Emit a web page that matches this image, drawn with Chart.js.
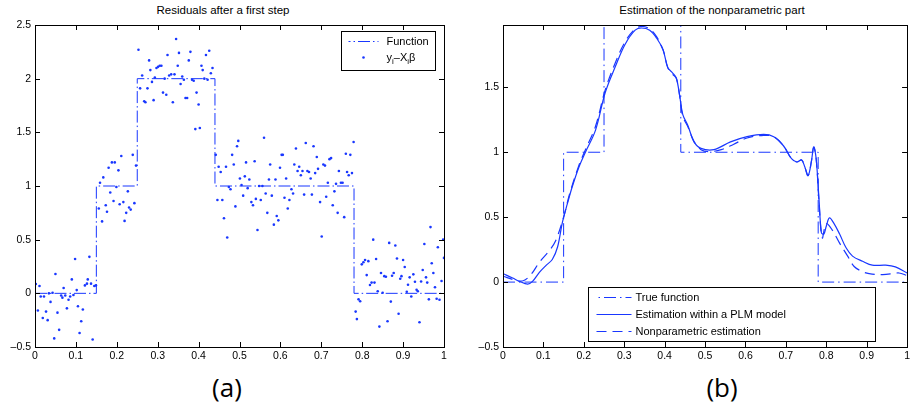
<!DOCTYPE html>
<html>
<head>
<meta charset="utf-8">
<script src="https://cdn.jsdelivr.net/npm/chart.js@4.4.1/dist/chart.umd.min.js"></script>
<style>
  body { margin: 0; background: #fff; width: 913px; height: 412px; overflow: hidden; position: relative; }
  canvas { position: absolute; top: 0; }
  #cA { left: 0; }
  #cB { left: 460px; }
  .title { position: absolute; top: 4px; font: 11.5px "Liberation Sans", Arial, sans-serif; color: #000; transform: translateX(-50%); white-space: nowrap; }
  .cap { position: absolute; top: 369px; font: 26px "Open Sans", sans-serif; color: #000; transform: translateX(-50%); }
</style>
</head>
<body>
<div class="title" style="left:223px">Residuals after a first step</div>
<div class="title" style="left:712px">Estimation of the nonparametric part</div>
<canvas id="cA" width="460" height="365"></canvas>
<canvas id="cB" width="453" height="365"></canvas>
<div class="cap" style="left:227px">(a)</div>
<div class="cap" style="left:722px">(b)</div>
<script>
// Tick values
const xTickVals = [0, 0.1, 0.2, 0.3, 0.4, 0.5, 0.6, 0.7, 0.8, 0.9, 1];
const yTickValsA = [-0.5, 0, 0.5, 1, 1.5, 2, 2.5];
const yTickValsB = [-0.5, 0, 0.5, 1, 1.5];

// True step function
const stepX = [0, 0.15, 0.15, 0.25, 0.25, 0.44, 0.44, 0.78, 0.78, 1];
const stepY = [0, 0, 1, 1, 2, 2, 1, 1, 0, 0];

// Residuals y_i - X_i beta
const resX = [
  0.002, 0.007, 0.011, 0.014, 0.019, 0.022, 0.027, 0.031, 0.034, 0.038, 0.043, 0.047, 0.050, 0.055, 0.059, 0.064,
  0.067, 0.070, 0.074, 0.078, 0.082, 0.086, 0.090, 0.094, 0.098, 0.102, 0.105, 0.109, 0.113, 0.117, 0.122, 0.127,
  0.129, 0.133, 0.137, 0.141, 0.145, 0.149,
  0.156, 0.159, 0.164, 0.167, 0.173, 0.176, 0.180, 0.184, 0.188, 0.192, 0.195, 0.199, 0.204, 0.207, 0.211, 0.216,
  0.219, 0.223, 0.227, 0.230, 0.234, 0.239, 0.243, 0.247,
  0.253, 0.257, 0.262, 0.267, 0.270, 0.275, 0.279, 0.282, 0.286, 0.290, 0.293, 0.297, 0.301, 0.305, 0.309, 0.313,
  0.317, 0.321, 0.324, 0.328, 0.333, 0.337, 0.341, 0.345, 0.349, 0.352, 0.356, 0.360, 0.364, 0.368, 0.372, 0.376,
  0.380, 0.384, 0.388, 0.392, 0.395, 0.400, 0.403, 0.407, 0.410, 0.414, 0.418, 0.422, 0.426, 0.430, 0.434,
  0.442, 0.446, 0.449, 0.454, 0.458, 0.462, 0.467, 0.470, 0.474, 0.478, 0.482, 0.486, 0.490, 0.494, 0.497, 0.501,
  0.505, 0.509, 0.513, 0.516, 0.520, 0.524, 0.529, 0.533, 0.537, 0.540, 0.544, 0.548, 0.552, 0.556, 0.560, 0.564,
  0.568, 0.572, 0.575, 0.579, 0.584, 0.588, 0.591, 0.595, 0.599, 0.603, 0.606, 0.610, 0.614, 0.618, 0.622, 0.627,
  0.631, 0.634, 0.638, 0.642, 0.646, 0.650, 0.654, 0.658, 0.662, 0.666, 0.670, 0.674, 0.677, 0.681, 0.685, 0.689,
  0.692, 0.697, 0.701, 0.705, 0.709, 0.712, 0.716, 0.720, 0.724, 0.728, 0.732, 0.736, 0.740, 0.743, 0.748, 0.752,
  0.756, 0.760, 0.763, 0.767, 0.771, 0.775, 0.779,
  0.784, 0.787, 0.791, 0.795, 0.799, 0.803, 0.807, 0.811, 0.815, 0.819, 0.823, 0.827, 0.830, 0.834, 0.838, 0.842,
  0.846, 0.850, 0.854, 0.858, 0.862, 0.866, 0.870, 0.873, 0.877, 0.881, 0.885, 0.889, 0.893, 0.896, 0.900, 0.904,
  0.909, 0.912, 0.916, 0.920, 0.925, 0.929, 0.933, 0.936, 0.940, 0.944, 0.948, 0.952, 0.956, 0.959, 0.963, 0.967,
  0.970, 0.974, 0.978, 0.982, 0.985, 0.989, 0.994, 0.998, 1.000
];
const resY = [
  0.087, -0.16, 0.068, -0.03, -0.23, -0.03, -0.17, -0.25, 0.00, -0.08, 0.006, -0.42, 0.18, -0.18, -0.34, -0.02,
  -0.04, 0.05, -0.02, -0.14, -0.06, -0.03, 0.13, -0.015, 0.32, 0.03, -0.12, -0.37, -0.26, -0.15, 0.074, 0.09,
  0.13, 0.34, 0.09, -0.43, 0.068, 0.074,
  0.79, 1.03, 0.67, 1.08, 0.82, 0.76, 1.17, 0.94, 1.22, 0.86, 1.22, 0.99, 1.146, 0.83, 1.28, 0.85,
  0.675, 0.75, 0.95, 0.80, 0.78, 1.29, 0.84, 1.19,
  2.27, 1.91, 2.03, 1.79, 1.78, 1.91, 2.17, 2.08, 1.97, 1.80, 2.01, 2.10, 2.11, 2.12, 2.12, 1.87,
  2.00, 1.85, 2.22, 2.03, 2.04, 1.78, 2.04, 2.37, 2.12, 2.24, 1.95, 2.02, 1.99, 1.82, 1.82, 2.17,
  2.25, 1.99, 1.98, 1.53, 1.87, 1.76, 1.54, 2.12, 2.08, 2.00, 2.22, 1.99, 2.26, 2.05, 2.10,
  1.29, 0.87, 1.18, 1.13, 0.87, 0.70, 1.18, 0.52, 0.99, 0.97, 1.29, 1.20, 0.81, 1.37, 1.42, 1.07,
  1.01, 0.91, 1.09, 1.22, 0.98, 1.06, 0.85, 0.82, 1.23, 0.88, 0.59, 1.00, 0.87, 1.00, 1.45, 0.93,
  0.75, 1.06, 1.20, 0.91, 0.64, 1.06, 0.72, 0.68, 1.17, 1.29, 1.29, 0.89, 1.07, 0.79, 0.87, 0.97,
  0.93, 1.20, 1.35, 1.14, 1.18, 1.10, 1.14, 0.92, 1.40, 1.14, 1.13, 1.07, 0.92, 1.37, 1.12, 1.27,
  1.16, 0.85, 0.53, 1.20, 1.19, 0.90, 1.03, 1.25, 1.26, 0.82, 0.95, 1.02, 0.75, 1.14, 1.03, 1.03,
  0.71, 1.30, 1.13, 1.10, 1.29, 1.12, 1.41,
  -0.17, -0.24, -0.056, -0.074, 0.27, 0.29, 0.31, 0.17, 0.30, 0.077, 0.10, 0.50, 0.10, 0.32, 0.02, -0.31,
  0.19, 0.006, 0.16, 0.155, -0.26, 0.47, -0.077, 0.164, 0.19, 0.446, 0.325, -0.19, 0.136, 0.16, 0.31, 0.245,
  0.015, 0.08, 0.149, -0.03, 0.177, 0.108, 0.034, 0.02, -0.27, 0.11, 0.217, 0.46, 0.149, 0.10, -0.056, 0.617,
  0.28, 0.19, 0.056, -0.05, 0.43, -0.06, 0.115, 0.50, 0.33
];

// Estimation within a PLM model
const plmX = [0, 0.024, 0.041, 0.061, 0.073, 0.09, 0.106, 0.122, 0.135, 0.147, 0.159, 0.171, 0.188, 0.204, 0.229,
  0.253, 0.278, 0.302, 0.327, 0.343, 0.363, 0.38, 0.396, 0.408, 0.42, 0.429, 0.437, 0.445, 0.457, 0.473, 0.49,
  0.522, 0.563, 0.604, 0.645, 0.67, 0.694, 0.714, 0.727, 0.739, 0.747, 0.755, 0.763, 0.769, 0.775, 0.782, 0.788,
  0.794, 0.8, 0.808, 0.82, 0.833, 0.849, 0.865, 0.89, 0.914, 0.947, 0.971, 1.0];
const plmY = [0.065, 0.031, 0.005, -0.016, 0.005, 0.075, 0.127, 0.174, 0.27, 0.46, 0.6, 0.73, 0.886, 1.0, 1.17,
  1.46, 1.66, 1.83, 1.94, 1.957, 1.94, 1.88, 1.79, 1.65, 1.61, 1.57, 1.44, 1.29, 1.21, 1.08, 1.03,
  1.02, 1.08, 1.12, 1.138, 1.12, 1.05, 0.95, 0.925, 0.94, 0.886, 0.82, 0.925, 1.04, 0.95, 0.64, 0.38,
  0.37, 0.43, 0.495, 0.446, 0.37, 0.264, 0.2, 0.16, 0.13, 0.13, 0.117, 0.07];

// Nonparametric estimation
const npX = [0, 0.03, 0.05, 0.069, 0.09, 0.114, 0.13, 0.15, 0.165, 0.188, 0.204, 0.229, 0.253, 0.278, 0.302,
  0.327, 0.345, 0.363, 0.38, 0.396, 0.408, 0.42, 0.429, 0.437, 0.445, 0.457, 0.473, 0.49, 0.51, 0.54, 0.57,
  0.604, 0.645, 0.67, 0.694, 0.714, 0.727, 0.739, 0.747, 0.755, 0.763, 0.769, 0.775, 0.782, 0.79, 0.8, 0.815,
  0.833, 0.853, 0.869, 0.89, 0.906, 0.94, 0.98, 1.0];
const npY = [0.045, 0.015, 0.01, 0.057, 0.153, 0.24, 0.316, 0.5, 0.68, 0.9, 1.02, 1.2, 1.48, 1.69, 1.85,
  1.95, 1.97, 1.95, 1.89, 1.79, 1.65, 1.60, 1.57, 1.44, 1.275, 1.2, 1.08, 1.02, 1.005, 1.02, 1.06,
  1.11, 1.13, 1.12, 1.05, 0.95, 0.925, 0.94, 0.886, 0.82, 0.925, 1.04, 0.95, 0.62, 0.34, 0.45, 0.40,
  0.30, 0.2, 0.12, 0.08, 0.065, 0.057, 0.07, 0.05];

const BLUE = 'rgb(25,55,255)';
const FONT = '"Liberation Sans", Arial, sans-serif';

function pts(xs, ys) {
  return xs.map((x, i) => ({ x: x, y: ys[i] }));
}

function fmt(v) {
  return v < 0 ? '\u2013' + Math.abs(v) : String(v);
}

// MATLAB-like box with inward ticks on all four sides
const matlabAxes = {
  id: 'matlabAxes',
  afterDatasetsDraw(chart) {
    const { ctx, chartArea: ca, scales } = chart;
    ctx.save();
    ctx.strokeStyle = '#000';
    ctx.lineWidth = 1;
    ctx.beginPath();
    scales.x.ticks.forEach(t => {
      const px = Math.round(scales.x.getPixelForValue(t.value)) + 0.5;
      ctx.moveTo(px, ca.bottom); ctx.lineTo(px, ca.bottom - 5);
      ctx.moveTo(px, ca.top); ctx.lineTo(px, ca.top + 5);
    });
    scales.y.ticks.forEach(t => {
      const py = Math.round(scales.y.getPixelForValue(t.value)) + 0.5;
      ctx.moveTo(ca.left, py); ctx.lineTo(ca.left + 5, py);
      ctx.moveTo(ca.right, py); ctx.lineTo(ca.right - 5, py);
    });
    ctx.stroke();
    ctx.strokeRect(Math.round(ca.left) + 0.5, Math.round(ca.top) + 0.5,
      Math.round(ca.right - ca.left), Math.round(ca.bottom - ca.top));
    ctx.restore();
  }
};

// Legend box drawn inside the axes
const boxLegend = {
  id: 'boxLegend',
  afterDraw(chart, args, opts) {
    const { ctx, chartArea: ca } = chart;
    const bx = Math.round(ca.left + opts.dx) + 0.5;
    const by = Math.round(ca.top + opts.dy) + 0.5;
    ctx.save();
    ctx.fillStyle = '#fff';
    ctx.fillRect(bx, by, opts.w, opts.h);
    ctx.strokeStyle = '#000';
    ctx.lineWidth = 1;
    ctx.strokeRect(bx, by, opts.w, opts.h);
    opts.rows.forEach((row, i) => {
      const ds = chart.data.datasets[row.dataset];
      const y = by + opts.firstRow + i * opts.rowGap;
      const x0 = bx + opts.sample[0], x1 = bx + opts.sample[1];
      if (ds.showLine) {
        ctx.strokeStyle = ds.borderColor;
        ctx.lineWidth = ds.borderWidth;
        ctx.setLineDash(ds.borderDash || []);
        ctx.lineDashOffset = row.dashOffset || 0;
        ctx.beginPath();
        ctx.moveTo(x0, y); ctx.lineTo(x1, y);
        ctx.stroke();
        ctx.setLineDash([]);
      } else {
        ctx.fillStyle = ds.backgroundColor;
        ctx.beginPath();
        ctx.arc((x0 + x1) / 2, y, ds.pointRadius, 0, Math.PI * 2);
        ctx.fill();
      }
      ctx.fillStyle = '#000';
      ctx.textBaseline = 'middle';
      let tx = bx + opts.textX;
      row.parts.forEach(p => {
        ctx.font = (p.sub ? '8px ' : '11px ') + FONT;
        ctx.fillText(p.t, tx, p.sub ? y + 4 : y);
        tx += ctx.measureText(p.t).width;
      });
    });
    ctx.restore();
  }
};

function axisOpts(ticksArr, min, max, isY, width) {
  return {
    type: 'linear',
    min: min,
    max: max,
    grid: { display: false, drawTicks: false },
    border: { display: false },
    ticks: { color: '#000', font: { family: FONT, size: 10.5 }, padding: isY ? 4 : 3, callback: fmt, autoSkip: false, maxRotation: 0 },
    afterBuildTicks: s => { s.ticks = ticksArr.map(v => ({ value: v })); },
    afterFit: s => { if (isY) s.width = width; else s.height = 18; }
  };
}

function baseOptions(yTicks, yMin, yMax, yWidth, padRight, legendOpts) {
  return {
    responsive: false,
    animation: false,
    layout: { padding: { top: 25, right: padRight, left: 0, bottom: 0 } },
    scales: {
      x: axisOpts(xTickVals, 0, 1, false),
      y: axisOpts(yTicks, yMin, yMax, true, yWidth)
    },
    plugins: {
      legend: { display: false },
      tooltip: { enabled: false },
      boxLegend: legendOpts
    }
  };
}

new Chart(document.getElementById('cA'), {
  type: 'scatter',
  data: {
    datasets: [
      {
        label: 'Function',
        data: pts(stepX, stepY),
        showLine: true,
        borderColor: BLUE,
        borderWidth: 1,
        borderDash: [12, 3, 1.5, 3],
        pointRadius: 0,
        fill: false
      },
      {
        label: 'yi-Xiβ',
        data: pts(resX, resY),
        showLine: false,
        backgroundColor: BLUE,
        borderWidth: 0,
        pointRadius: 1.3
      }
    ]
  },
  options: baseOptions(yTickValsA, -0.5, 2.5, 35, 16, {
    dx: 306, dy: 6, w: 94, h: 39, firstRow: 10, rowGap: 16, sample: [7, 37], textX: 45,
    rows: [
      { dataset: 0, dashOffset: 10, parts: [{ t: 'Function' }] },
      { dataset: 1, parts: [{ t: 'y' }, { t: 'i', sub: true }, { t: '\u2013X' }, { t: 'i', sub: true }, { t: '\u03b2' }] }
    ]
  }),
  plugins: [matlabAxes, boxLegend]
});

new Chart(document.getElementById('cB'), {
  type: 'scatter',
  data: {
    datasets: [
      {
        label: 'True function',
        data: pts(stepX, stepY),
        showLine: true,
        borderColor: BLUE,
        borderWidth: 1,
        borderDash: [12, 4, 1.5, 4],
        pointRadius: 0,
        fill: false
      },
      {
        label: 'Estimation within a PLM model',
        data: pts(plmX, plmY),
        showLine: true,
        borderColor: BLUE,
        borderWidth: 1.2,
        tension: 0.35,
        pointRadius: 0,
        fill: false
      },
      {
        label: 'Nonparametric estimation',
        data: pts(npX, npY),
        showLine: true,
        borderColor: BLUE,
        borderWidth: 1.2,
        borderDash: [10, 6],
        tension: 0.35,
        pointRadius: 0,
        fill: false
      }
    ]
  },
  options: baseOptions(yTickValsB, -0.5, 1.98, 43, 1, {
    dx: 85, dy: 262, w: 287, h: 54, firstRow: 10, rowGap: 17, sample: [8, 43], textX: 47,
    rows: [
      { dataset: 0, dashOffset: 14, parts: [{ t: 'True function' }] },
      { dataset: 1, parts: [{ t: 'Estimation within a PLM model' }] },
      { dataset: 2, parts: [{ t: 'Nonparametric estimation' }] }
    ]
  }),
  plugins: [matlabAxes, boxLegend]
});
</script>
</body>
</html>
